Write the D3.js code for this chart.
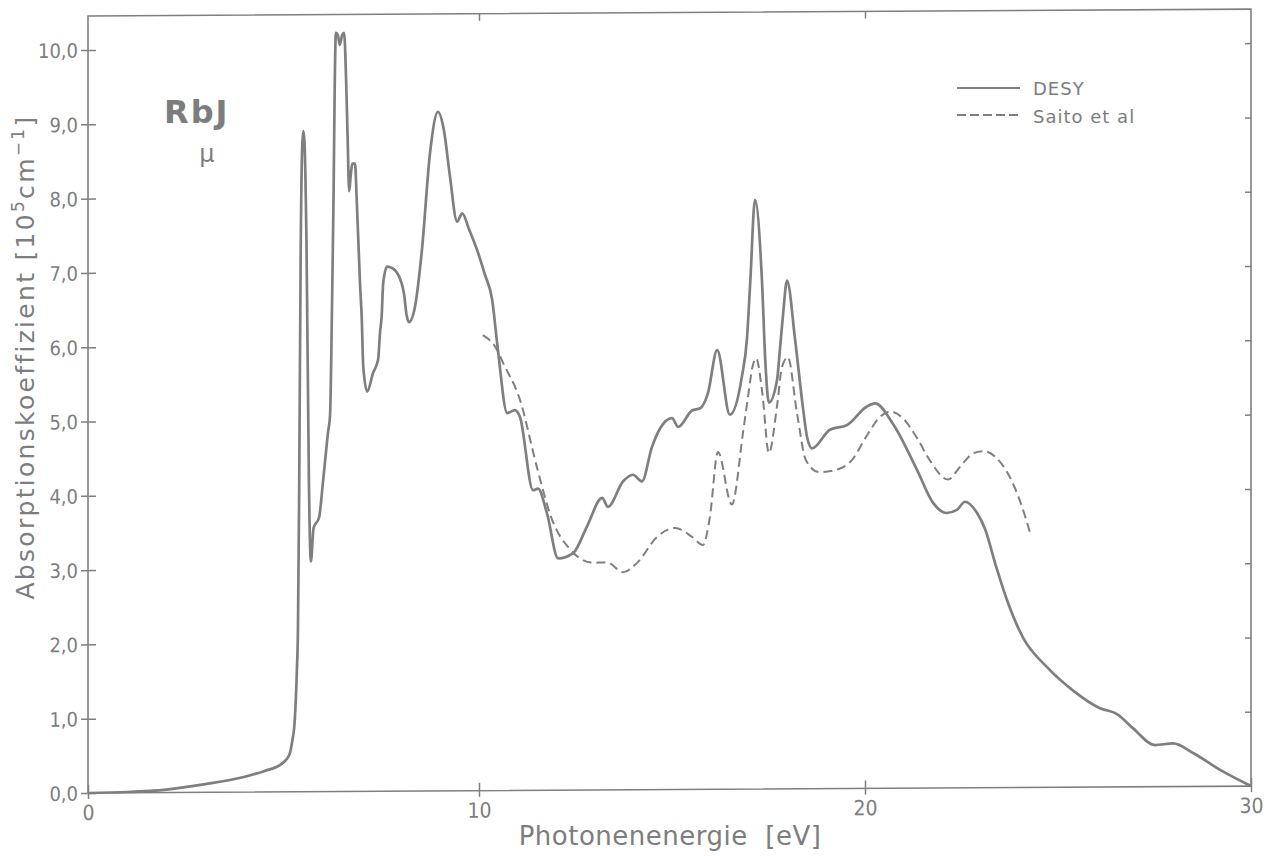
<!DOCTYPE html>
<html>
<head>
<meta charset="utf-8">
<script src="https://cdn.jsdelivr.net/npm/d3@7"></script>
<style>
  html, body { margin: 0; padding: 0; background: #ffffff; }
  svg { display: block; }
  .lbl { font-family: "DejaVu Sans Condensed", "Liberation Sans Narrow", "DejaVu Sans", sans-serif; fill: #7d7d7d; }
  .ttl { font-family: "DejaVu Sans", sans-serif; fill: #7d7d7d; }
</style>
</head>
<body>
<svg id="chart" width="1268" height="856"></svg>
<script>
// Absorption coefficient of RbJ, photon energy in eV, mu in 10^5 cm^-1
const desyEnergy = [0.0, 1.0, 2.0, 3.0, 3.96, 4.5, 4.96, 5.15, 5.22, 5.29, 5.34, 5.37, 5.40, 5.44, 5.48, 5.51, 5.54, 5.59, 5.65, 5.70,
  5.77, 5.91, 6.01, 6.14, 6.19, 6.24, 6.28, 6.31, 6.34, 6.39, 6.44, 6.50, 6.55, 6.60, 6.64, 6.68, 6.72, 6.76, 6.83, 6.87,
  6.96, 7.00, 7.04, 7.14, 7.29, 7.42, 7.47, 7.51, 7.55, 7.65, 7.78, 7.90, 8.08, 8.15, 8.21, 8.36, 8.54, 8.75, 8.95, 9.10,
  9.25, 9.44, 9.57, 9.75, 9.95, 10.15, 10.34, 10.49, 10.73, 10.93, 11.06, 11.40, 11.53, 11.76, 12.05, 12.44, 12.80, 13.19, 13.34, 13.73,
  13.99, 14.22, 14.48, 14.69, 15.00, 15.16, 15.52, 15.73, 15.93, 16.17, 16.50, 16.81, 16.94, 17.03, 17.15, 17.33, 17.42, 17.51, 17.72, 17.80,
  17.88, 17.98, 18.19, 18.39, 18.50, 18.63, 19.09, 19.53, 20.05, 20.26, 20.73, 21.35, 21.76, 22.12, 22.38, 22.59, 22.90, 23.11, 23.40, 23.68,
  24.09, 24.71, 25.39, 26.09, 26.53, 26.94, 27.51, 27.98, 28.50, 29.20, 30.0];
const desyMu = [0.0, 0.01, 0.04, 0.11, 0.20, 0.28, 0.38, 0.50, 0.67, 0.98, 1.6, 2.2, 4.0, 7.3, 8.7, 8.89, 8.7, 7.3, 4.17, 3.10,
  3.55, 3.69, 4.17, 4.84, 5.06, 6.5, 8.0, 9.5, 10.21, 10.18, 10.05, 10.18, 10.21, 9.6, 8.8, 8.08, 8.3, 8.45, 8.45, 8.0,
  6.8, 6.39, 5.72, 5.38, 5.63, 5.81, 6.18, 6.39, 6.84, 7.06, 7.04, 6.98, 6.70, 6.40, 6.31, 6.51, 7.28, 8.6, 9.14, 8.9,
  8.3, 7.66, 7.77, 7.55, 7.28, 6.95, 6.61, 5.93, 5.08, 5.12, 5.03, 4.04, 4.06, 3.73, 3.12, 3.19, 3.55, 3.93, 3.81, 4.15,
  4.24, 4.15, 4.61, 4.86, 5.00, 4.88, 5.10, 5.13, 5.33, 5.91, 5.04, 5.55, 6.05, 6.85, 7.93, 6.85, 5.73, 5.20, 5.50, 5.94,
  6.40, 6.84, 6.04, 5.14, 4.73, 4.58, 4.83, 4.89, 5.14, 5.18, 4.90, 4.28, 3.84, 3.70, 3.74, 3.85, 3.70, 3.48, 2.97, 2.52,
  2.02, 1.62, 1.30, 1.06, 0.98, 0.79, 0.56, 0.58, 0.45, 0.22, 0.0];

const saitoEnergy = [10.10, 10.47, 10.62, 11.06, 11.50, 11.88, 12.36, 12.95, 13.32, 13.73, 14.09, 14.61, 15.08, 15.52, 15.80, 15.98, 16.19, 16.55, 16.84, 16.98,
  17.08, 17.18, 17.34, 17.51, 17.72, 17.85, 18.00, 18.24, 18.47, 18.81, 19.25, 19.66, 20.05, 20.39, 20.65, 20.98, 21.35, 21.68, 22.15, 22.46,
  22.80, 23.06, 23.42, 23.76, 24.02, 24.28];
const saitoMu = [6.13, 5.93, 5.76, 5.26, 4.35, 3.66, 3.24, 3.06, 3.06, 2.93, 3.05, 3.40, 3.52, 3.40, 3.29, 3.66, 4.54, 3.83, 4.80, 5.32,
  5.67, 5.80, 5.33, 4.52, 5.15, 5.68, 5.81, 5.05, 4.42, 4.26, 4.29, 4.42, 4.75, 5.00, 5.07, 4.98, 4.71, 4.41, 4.15, 4.32,
  4.50, 4.53, 4.43, 4.17, 3.85, 3.42];

const xTicks = [0, 10, 20, 30];
const yTicks = [0, 1, 2, 3, 4, 5, 6, 7, 8, 9, 10];
const seriesNames = ["DESY", "Saito et al"];

const svg = d3.select("#chart");
const ink = "#7f7f7f";

// the plotted frame leans a little: its right edge sits about 7 px higher
const plot = svg.append("g")
  .attr("transform", "translate(88,793) skewY(-0.34) translate(-88,-793)");

const x = d3.scaleLinear().domain([0, 10, 20, 30]).range([88, 479, 865, 1251]);
const y = d3.scaleLinear().domain([0, 10]).range([793, 50]);
const frameTop = 16;

// frame
plot.append("rect")
  .attr("x", x(0)).attr("y", frameTop)
  .attr("width", x(30) - x(0)).attr("height", y(0) - frameTop)
  .attr("fill", "none").attr("stroke", ink).attr("stroke-width", 1.6);

const fmt = d => d.toFixed(1).replace(".", ",");

// left axis, ticks crossing the axis line
const yAxis = plot.append("g").attr("transform", `translate(${x(0)},0)`)
  .call(d3.axisLeft(y).tickValues(yTicks).tickFormat(fmt).tickSizeOuter(0));
yAxis.select(".domain").remove();
yAxis.selectAll(".tick line").attr("x1", 8).attr("x2", -7).attr("stroke", ink).attr("stroke-width", 1.5);
yAxis.selectAll(".tick text").attr("class", "lbl").attr("x", -10).attr("dy", "0.36em")
  .style("font-size", "20px").attr("fill", "#7d7d7d");

// right axis, inward ticks
const yAxisR = plot.append("g").attr("transform", `translate(${x(30)},0)`)
  .call(d3.axisLeft(y).tickValues(yTicks.slice(1)).tickFormat("").tickSize(6).tickSizeOuter(0));
yAxisR.select(".domain").remove();
yAxisR.selectAll(".tick line").attr("stroke", ink).attr("stroke-width", 1.5);

// bottom axis
const xAxis = plot.append("g").attr("transform", `translate(0,${y(0)})`)
  .call(d3.axisBottom(x).tickValues(xTicks).tickFormat(d3.format("d")).tickSizeOuter(0));
xAxis.select(".domain").remove();
xAxis.selectAll(".tick line").attr("y1", -8).attr("y2", 6).attr("stroke", ink).attr("stroke-width", 1.5);
xAxis.selectAll(".tick text").attr("class", "lbl").attr("y", 12).attr("dy", "0.71em")
  .style("font-size", "21px").attr("fill", "#7d7d7d");

// top axis, inward ticks
const xAxisT = plot.append("g").attr("transform", `translate(0,${frameTop})`)
  .call(d3.axisBottom(x).tickValues([10, 20]).tickFormat("").tickSize(7).tickSizeOuter(0));
xAxisT.select(".domain").remove();
xAxisT.selectAll(".tick line").attr("stroke", ink).attr("stroke-width", 1.5);

// curves
const line = d3.line().x(d => x(d[0])).y(d => y(d[1])).curve(d3.curveMonotoneX);
const desy = desyEnergy.map((e, i) => [e, desyMu[i]]);
const saito = saitoEnergy.map((e, i) => [e, saitoMu[i]]);

plot.append("path").datum(saito).attr("d", line)
  .attr("fill", "none").attr("stroke", ink).attr("stroke-width", 2)
  .attr("stroke-dasharray", "9,5");
plot.append("path").datum(desy).attr("d", line)
  .attr("fill", "none").attr("stroke", ink).attr("stroke-width", 2.7)
  .attr("stroke-linejoin", "round");

// sample label
svg.append("text").attr("class", "ttl").attr("x", 164).attr("y", 123)
  .style("font-size", "32px").style("font-weight", "bold").style("letter-spacing", "2px")
  .text("RbJ");
svg.append("text").attr("class", "ttl").attr("x", 207).attr("y", 162)
  .attr("text-anchor", "middle").style("font-size", "24px").text("μ");

// legend
const legend = svg.append("g");
legend.append("line").attr("x1", 957).attr("x2", 1020).attr("y1", 88).attr("y2", 88)
  .attr("stroke", ink).attr("stroke-width", 2.2);
legend.append("line").attr("x1", 957).attr("x2", 1020).attr("y1", 115).attr("y2", 115)
  .attr("stroke", ink).attr("stroke-width", 1.8).attr("stroke-dasharray", "9,4");
legend.selectAll("text.leg").data(seriesNames).join("text")
  .attr("class", "ttl leg").attr("x", 1033).attr("y", (d, i) => 95 + i * 28)
  .style("font-size", "18px").style("letter-spacing", "1px").text(d => d);

// axis titles
svg.append("text").attr("class", "ttl").attr("x", 670).attr("y", 845)
  .attr("text-anchor", "middle").style("font-size", "26px").style("letter-spacing", "0.5px")
  .text("Photonenenergie\u00a0\u00a0[eV]");

const yt = svg.append("text").attr("class", "ttl")
  .attr("transform", "translate(34,357) rotate(-90)")
  .attr("text-anchor", "middle").style("font-size", "25px").style("letter-spacing", "2.3px");
yt.append("tspan").text("Absorptionskoeffizient [10");
yt.append("tspan").attr("dy", -10).style("font-size", "17px").text("5");
yt.append("tspan").attr("dy", 10).text("cm");
yt.append("tspan").attr("dy", -10).style("font-size", "17px").text("−1");
yt.append("tspan").attr("dy", 10).text("]");
</script>
</body>
</html>
